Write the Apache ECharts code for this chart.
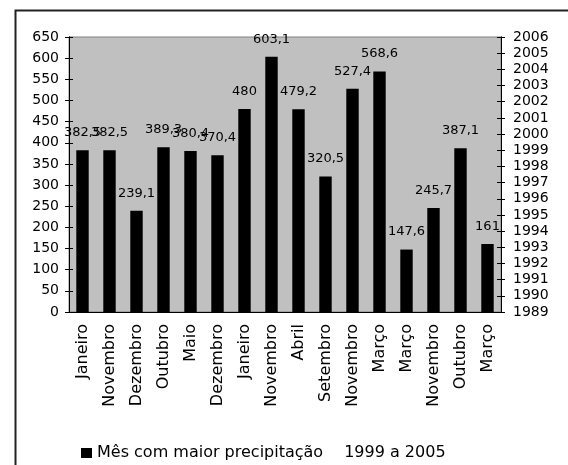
<!DOCTYPE html>
<html>
<head>
<meta charset="utf-8">
<script src="https://cdn.jsdelivr.net/npm/echarts@6/dist/echarts.min.js"></script>
<style>
html,body{margin:0;padding:0;background:#fff;}
#c{width:568px;height:465px;}
</style>
</head>
<body>
<div id="c"></div>
<script>
const categories = ['Janeiro','Novembro','Dezembro','Outubro','Maio','Dezembro','Janeiro','Novembro','Abril','Setembro','Novembro','Março','Março','Novembro','Outubro','Março'];
const precip = [382.5,382.5,239.1,389.3,380.4,370.4,480,603.1,479.2,320.5,527.4,568.6,147.6,245.7,387.1,161];
const seriesName = 'Mês com maior precipitação';
const periodName = '1999 a 2005';
const leftMin = 0, leftMax = 650, leftStep = 50;
const yearMin = 1989, yearMax = 2006, yearStep = 1;

const FONT = 'DejaVu Sans';
const chart = echarts.init(document.getElementById('c'), null, {renderer:'canvas'});

const fmtNum = v => String(v).replace('.', ',');

const yBase = {
  type:'value', splitLine:{show:false},
  axisLine:{show:true, lineStyle:{color:'#000', width:1}},
  axisTick:{show:true, length:4, lineStyle:{color:'#000'}},
};

chart.setOption({
  animation:false,
  backgroundColor:'#fff',
  graphic:[{
    type:'rect', left:13, top:8, shape:{width:600, height:500},
    style:{fill:'none', stroke:'#222', lineWidth:2}, z:-10
  }],
  grid:{left:69, right:67, top:37, bottom:153, show:true,
        backgroundColor:'#c0c0c0', borderColor:'#808080', borderWidth:1},
  legend:{
    left:81, top:445, padding:0, itemWidth:11, itemHeight:10, itemGap:5,
    textStyle:{fontFamily:FONT, fontSize:16, color:'#000'},
    data:[{name:seriesName, icon:'rect'}, {name:periodName, icon:'none'}]
  },
  xAxis:[{
    type:'category', data:categories,
    axisLine:{lineStyle:{color:'#000'}},
    axisTick:{length:4, lineStyle:{color:'#000'}},
    axisLabel:{rotate:90, interval:0, margin:12, fontFamily:FONT, fontSize:16, color:'#000'}
  },{
    type:'category', data:categories, position:'bottom',
    axisLine:{show:false}, axisLabel:{show:false},
    axisTick:{inside:true, length:4, lineStyle:{color:'#000'}}
  }],
  yAxis:[
    Object.assign({}, yBase, {position:'left', min:leftMin, max:leftMax, interval:leftStep,
      axisLabel:{margin:10, fontFamily:FONT, fontSize:14, color:'#000'}}),
    Object.assign({}, yBase, {position:'right', min:yearMin, max:yearMax, interval:yearStep,
      axisLabel:{margin:12, fontFamily:FONT, fontSize:14, color:'#000', formatter:v => String(v)}}),
    Object.assign({}, yBase, {position:'left', min:leftMin, max:leftMax, interval:leftStep,
      axisTick:{show:true, inside:true, length:4, lineStyle:{color:'#000'}}, axisLabel:{show:false}}),
    Object.assign({}, yBase, {position:'right', min:yearMin, max:yearMax, interval:yearStep,
      axisTick:{show:true, inside:true, length:4, lineStyle:{color:'#000'}}, axisLabel:{show:false}})
  ],
  series:[{
    name:seriesName, type:'bar', data:precip, barWidth:'46%',
    itemStyle:{color:'#000'},
    label:{show:true, position:'top', distance:11, fontFamily:FONT, fontSize:13, color:'#000',
           formatter:p => fmtNum(p.value)}
  },{
    name:periodName, type:'line', yAxisIndex:1, data:[], symbol:'none',
    itemStyle:{color:'#000'}, lineStyle:{width:0}
  }]
});
</script>
</body>
</html>
